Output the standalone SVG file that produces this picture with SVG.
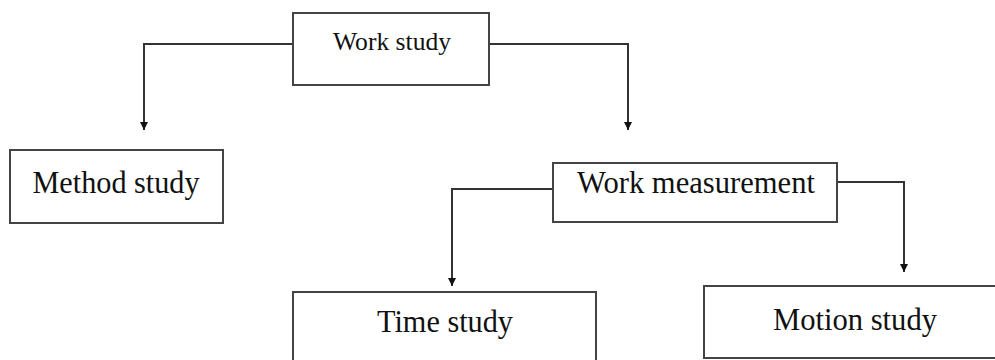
<svg xmlns="http://www.w3.org/2000/svg" width="995" height="360" viewBox="0 0 995 360">
<style>
.box{fill:#fff;stroke:#444;stroke-width:2}
.lbl{font-family:"Liberation Serif","Times New Roman",serif;fill:#111;text-anchor:middle}
.con{fill:none;stroke:#333;stroke-width:2}
</style>
<defs>
<marker id="ah" markerWidth="10" markerHeight="10" refX="9" refY="5" orient="auto" markerUnits="userSpaceOnUse" viewBox="0 0 10 10">
<path d="M1,1 L9,5 L1,9 Z" fill="#111"/>
</marker>
</defs>
<rect width="995" height="360" fill="#fff"/>
<g id="connectors">
<path class="con" d="M293,44 H144 V130" marker-end="url(#ah)"/>
<path class="con" d="M489,44 H628 V130" marker-end="url(#ah)"/>
<path class="con" d="M553,189 H452 V286" marker-end="url(#ah)"/>
<path class="con" d="M837,182 H904 V272" marker-end="url(#ah)"/>
</g>
<g id="work-study">
<rect class="box" x="293" y="13" width="196" height="72"/>
<text class="lbl" x="392" y="50" font-size="26" textLength="118" lengthAdjust="spacingAndGlyphs">Work study</text>
</g>
<g id="method-study">
<rect class="box" x="10" y="150" width="213" height="73"/>
<text class="lbl" x="116" y="193" font-size="32" textLength="167" lengthAdjust="spacingAndGlyphs">Method study</text>
</g>
<g id="work-measurement">
<rect class="box" x="553" y="163" width="284" height="59"/>
<text class="lbl" x="696" y="193" font-size="32" textLength="238" lengthAdjust="spacingAndGlyphs">Work measurement</text>
</g>
<g id="time-study">
<rect class="box" x="293" y="292" width="303" height="80"/>
<text class="lbl" x="445" y="332" font-size="32" textLength="136" lengthAdjust="spacingAndGlyphs">Time study</text>
</g>
<g id="motion-study">
<rect class="box" x="704" y="286" width="300" height="72"/>
<text class="lbl" x="855" y="330" font-size="32" textLength="164" lengthAdjust="spacingAndGlyphs">Motion study</text>
</g>
</svg>
